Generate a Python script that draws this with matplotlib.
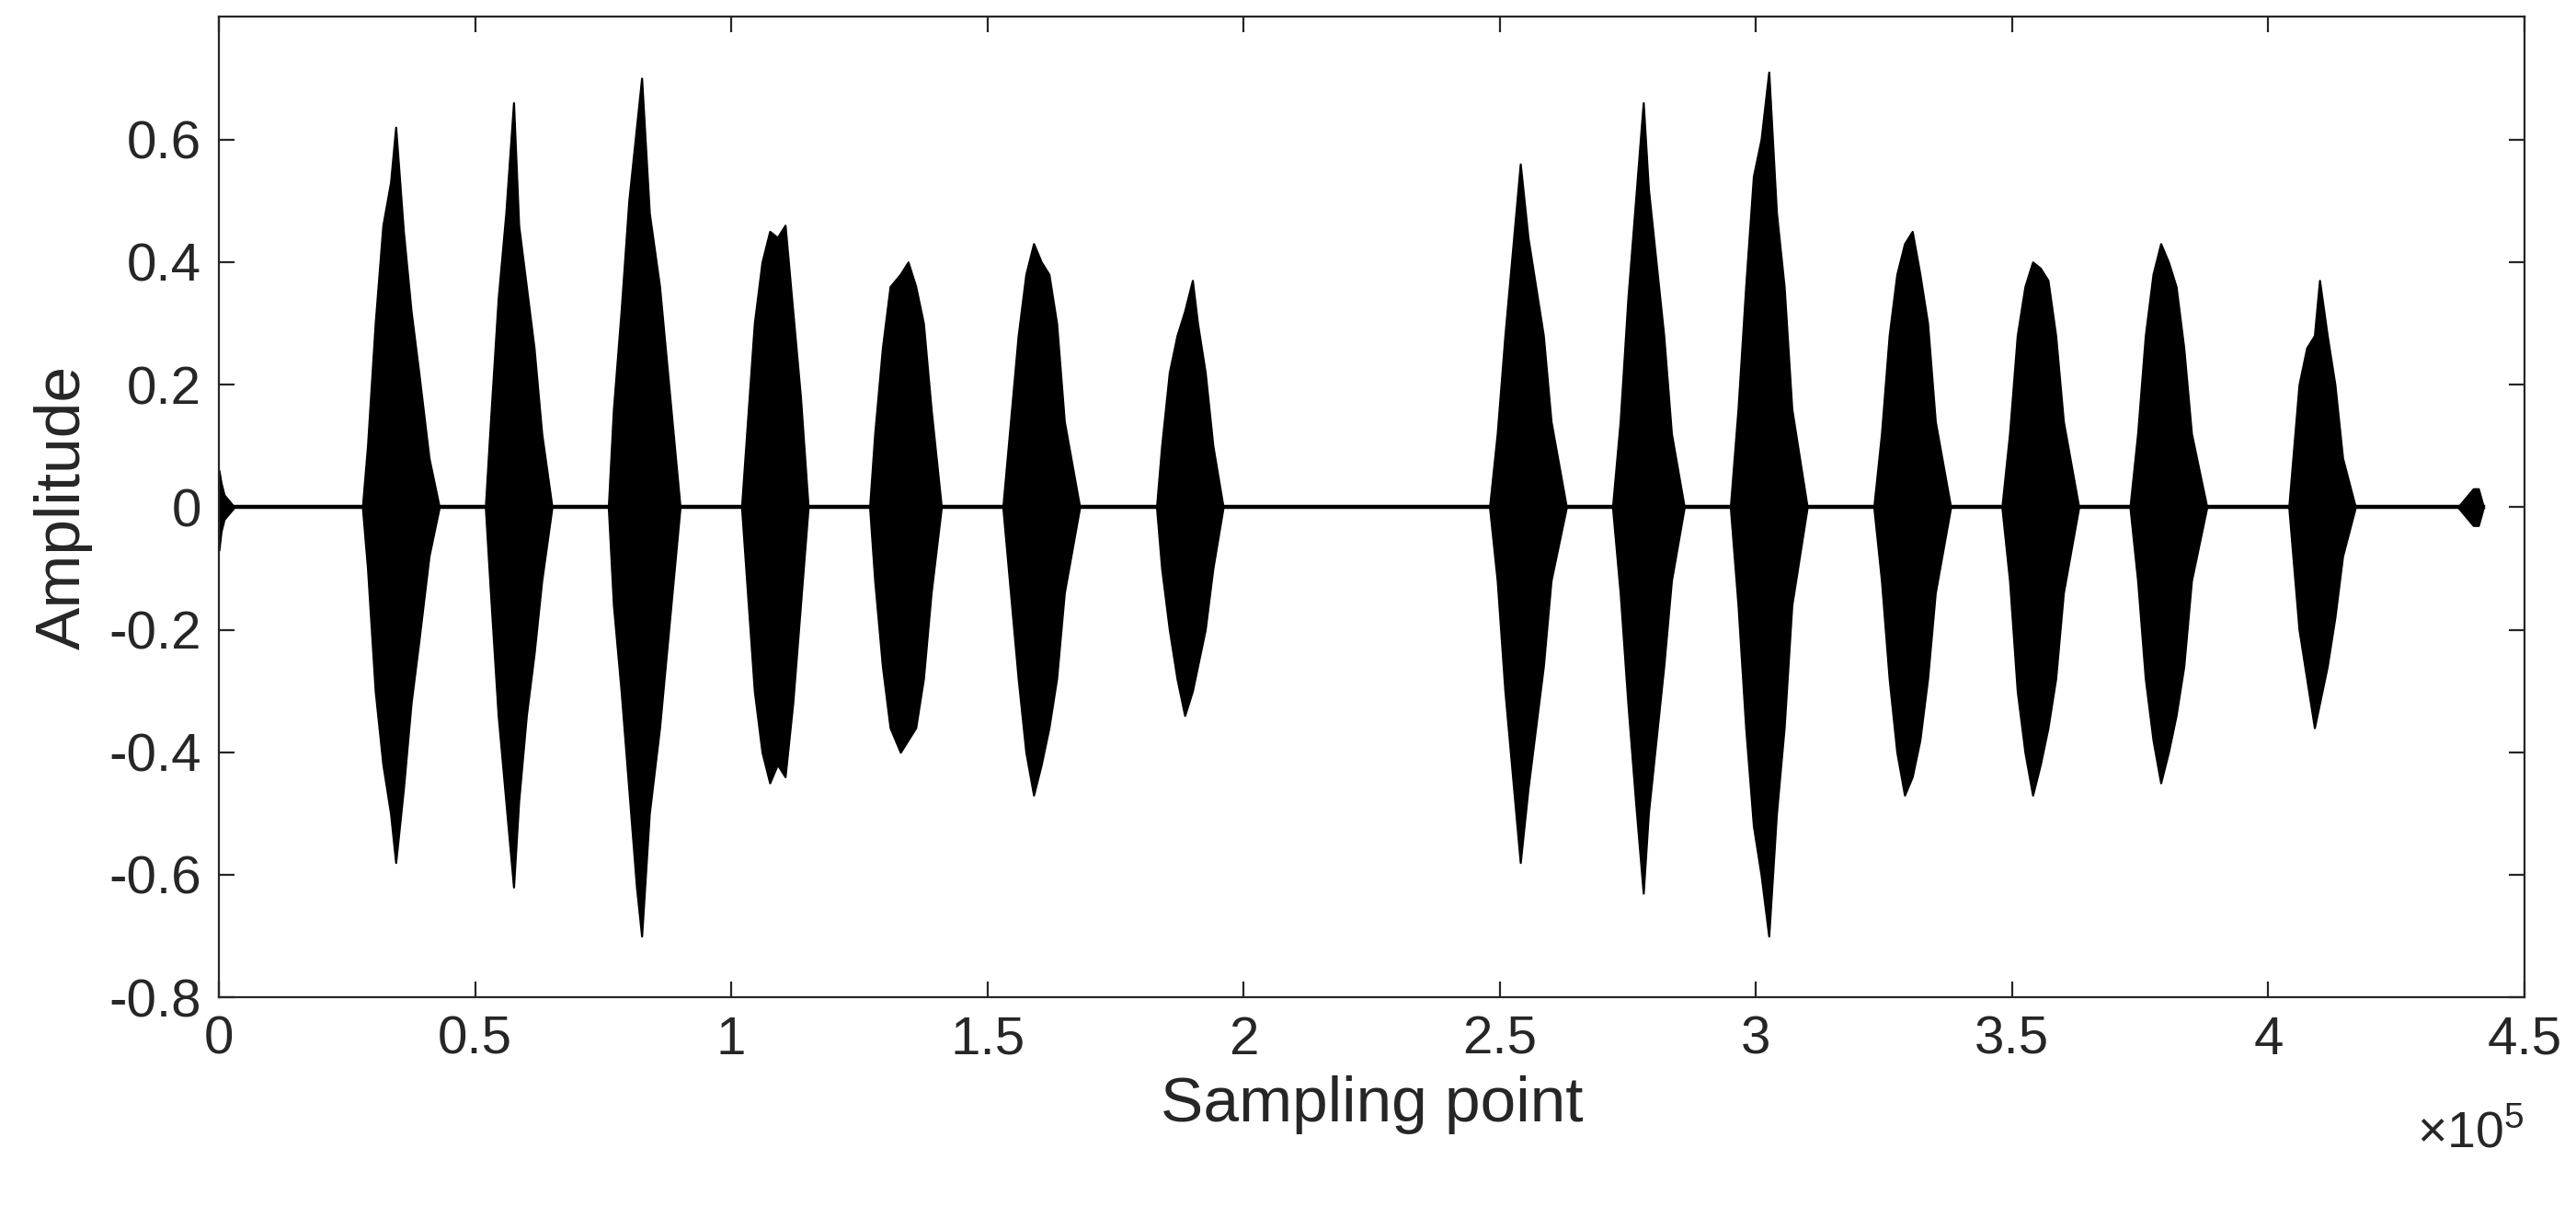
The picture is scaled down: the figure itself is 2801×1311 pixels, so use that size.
import numpy as np
import matplotlib
matplotlib.use("Agg")
import matplotlib.pyplot as plt

plt.rcParams['font.family'] = ['Liberation Sans', 'DejaVu Sans']
plt.rcParams['mathtext.fontset'] = 'custom'
plt.rcParams['mathtext.rm'] = 'Liberation Sans'

# envelope points of each burst (x in units of 1e5 samples)
burst_x = [
    [0.0, 0.004, 0.01, 0.02, 0.03],
    [0.28, 0.29, 0.305, 0.32, 0.335, 0.345, 0.36, 0.375, 0.39, 0.41, 0.43],
    [0.52, 0.53, 0.545, 0.56, 0.575, 0.585, 0.60, 0.615, 0.63, 0.65],
    [0.76, 0.77, 0.785, 0.80, 0.815, 0.825, 0.84, 0.86, 0.88, 0.90],
    [1.02, 1.03, 1.045, 1.06, 1.075, 1.09, 1.105, 1.12, 1.135, 1.15],
    [1.27, 1.28, 1.295, 1.31, 1.33, 1.345, 1.36, 1.375, 1.39, 1.41],
    [1.53, 1.545, 1.56, 1.575, 1.59, 1.605, 1.62, 1.635, 1.65, 1.68],
    [1.83, 1.84, 1.855, 1.87, 1.885, 1.90, 1.91, 1.925, 1.94, 1.96],
    [2.48, 2.495, 2.51, 2.525, 2.54, 2.555, 2.57, 2.585, 2.60, 2.63],
    [2.72, 2.735, 2.75, 2.765, 2.78, 2.79, 2.805, 2.82, 2.835, 2.86],
    [2.95, 2.965, 2.98, 2.995, 3.01, 3.025, 3.04, 3.055, 3.07, 3.10],
    [3.23, 3.245, 3.26, 3.275, 3.29, 3.305, 3.32, 3.335, 3.35, 3.38],
    [3.48, 3.495, 3.51, 3.525, 3.54, 3.555, 3.57, 3.585, 3.60, 3.63],
    [3.73, 3.745, 3.76, 3.775, 3.79, 3.805, 3.82, 3.835, 3.85, 3.88],
    [4.04, 4.05, 4.06, 4.075, 4.09, 4.10, 4.115, 4.13, 4.145, 4.17],
    [4.37, 4.38, 4.39, 4.40, 4.41, 4.42],
]
burst_pos = [
    [0.06, 0.04, 0.02, 0.01, 0.0],
    [0.0, 0.10, 0.30, 0.46, 0.53, 0.62, 0.45, 0.32, 0.22, 0.08, 0.0],
    [0.0, 0.14, 0.34, 0.48, 0.66, 0.46, 0.36, 0.26, 0.12, 0.0],
    [0.0, 0.16, 0.32, 0.50, 0.62, 0.70, 0.48, 0.36, 0.18, 0.0],
    [0.0, 0.12, 0.30, 0.40, 0.45, 0.44, 0.46, 0.32, 0.18, 0.0],
    [0.0, 0.12, 0.26, 0.36, 0.38, 0.40, 0.36, 0.30, 0.16, 0.0],
    [0.0, 0.14, 0.28, 0.38, 0.43, 0.40, 0.38, 0.30, 0.14, 0.0],
    [0.0, 0.10, 0.22, 0.28, 0.32, 0.37, 0.30, 0.22, 0.10, 0.0],
    [0.0, 0.12, 0.28, 0.42, 0.56, 0.44, 0.36, 0.28, 0.14, 0.0],
    [0.0, 0.14, 0.34, 0.50, 0.66, 0.52, 0.40, 0.28, 0.12, 0.0],
    [0.0, 0.16, 0.36, 0.54, 0.60, 0.71, 0.48, 0.36, 0.16, 0.0],
    [0.0, 0.12, 0.28, 0.38, 0.43, 0.45, 0.38, 0.30, 0.14, 0.0],
    [0.0, 0.12, 0.28, 0.36, 0.40, 0.39, 0.37, 0.28, 0.14, 0.0],
    [0.0, 0.12, 0.28, 0.38, 0.43, 0.40, 0.36, 0.26, 0.12, 0.0],
    [0.0, 0.10, 0.20, 0.26, 0.28, 0.37, 0.28, 0.20, 0.08, 0.0],
    [0.0, 0.01, 0.02, 0.03, 0.03, 0.0],
]
burst_neg = [
    [-0.07, -0.04, -0.02, -0.01, 0.0],
    [0.0, -0.10, -0.30, -0.42, -0.50, -0.58, -0.46, -0.32, -0.22, -0.08, 0.0],
    [0.0, -0.14, -0.34, -0.48, -0.62, -0.48, -0.34, -0.24, -0.12, 0.0],
    [0.0, -0.16, -0.30, -0.46, -0.62, -0.70, -0.50, -0.36, -0.18, 0.0],
    [0.0, -0.12, -0.30, -0.40, -0.45, -0.42, -0.44, -0.32, -0.16, 0.0],
    [0.0, -0.12, -0.26, -0.36, -0.40, -0.38, -0.36, -0.28, -0.14, 0.0],
    [0.0, -0.14, -0.28, -0.40, -0.47, -0.42, -0.36, -0.28, -0.14, 0.0],
    [0.0, -0.10, -0.20, -0.28, -0.34, -0.30, -0.26, -0.20, -0.10, 0.0],
    [0.0, -0.12, -0.30, -0.44, -0.58, -0.46, -0.36, -0.26, -0.12, 0.0],
    [0.0, -0.14, -0.32, -0.48, -0.63, -0.50, -0.38, -0.26, -0.12, 0.0],
    [0.0, -0.16, -0.36, -0.52, -0.60, -0.70, -0.50, -0.36, -0.16, 0.0],
    [0.0, -0.12, -0.28, -0.40, -0.47, -0.44, -0.38, -0.28, -0.14, 0.0],
    [0.0, -0.12, -0.30, -0.40, -0.47, -0.42, -0.36, -0.28, -0.14, 0.0],
    [0.0, -0.12, -0.28, -0.38, -0.45, -0.40, -0.34, -0.26, -0.12, 0.0],
    [0.0, -0.10, -0.20, -0.28, -0.36, -0.32, -0.26, -0.18, -0.08, 0.0],
    [0.0, -0.01, -0.02, -0.03, -0.03, 0.0],
]
baseline_x = [0.0, 4.42]
baseline_y = [0.0, 0.0]
x_ticks = [0, 0.5, 1, 1.5, 2, 2.5, 3, 3.5, 4, 4.5]
x_labels = ['0', '0.5', '1', '1.5', '2', '2.5', '3', '3.5', '4', '4.5']
y_ticks = [-0.8, -0.6, -0.4, -0.2, 0, 0.2, 0.4, 0.6]
y_labels = ['-0.8', '-0.6', '-0.4', '-0.2', '0', '0.2', '0.4', '0.6']

fig = plt.figure(figsize=(14.005, 6.555), dpi=200)
ax = fig.add_axes([0.085, 0.173, 0.895, 0.813])

ax.plot(baseline_x, baseline_y, color='black', lw=1.6)
for xs, ps, ns in zip(burst_x, burst_pos, burst_neg):
    ax.fill_between(xs, ns, ps, color='black', lw=0.8, edgecolor='black')

ax.set_xlim(0, 4.5)
ax.set_ylim(-0.8, 0.8)
ax.set_yticks(y_ticks)
ax.set_yticklabels(y_labels)
ax.set_xticks(x_ticks)
ax.set_xticklabels(x_labels)

ax.tick_params(direction='in', top=True, right=True, labelsize=21, length=6,
               width=0.8, colors='#262626', pad=7)
for s in ax.spines.values():
    s.set_linewidth(0.8)
    s.set_color('#262626')
ax.set_xlabel('Sampling point', fontsize=25, color='#262626', labelpad=4)
ax.set_ylabel('Amplitude', fontsize=25, color='#262626', labelpad=6)
ax.text(1.0, -0.115, r'$\times 10^5$', transform=ax.transAxes, ha='right',
        va='top', fontsize=20, color='#262626')

fig.savefig('out.png', dpi=200)
